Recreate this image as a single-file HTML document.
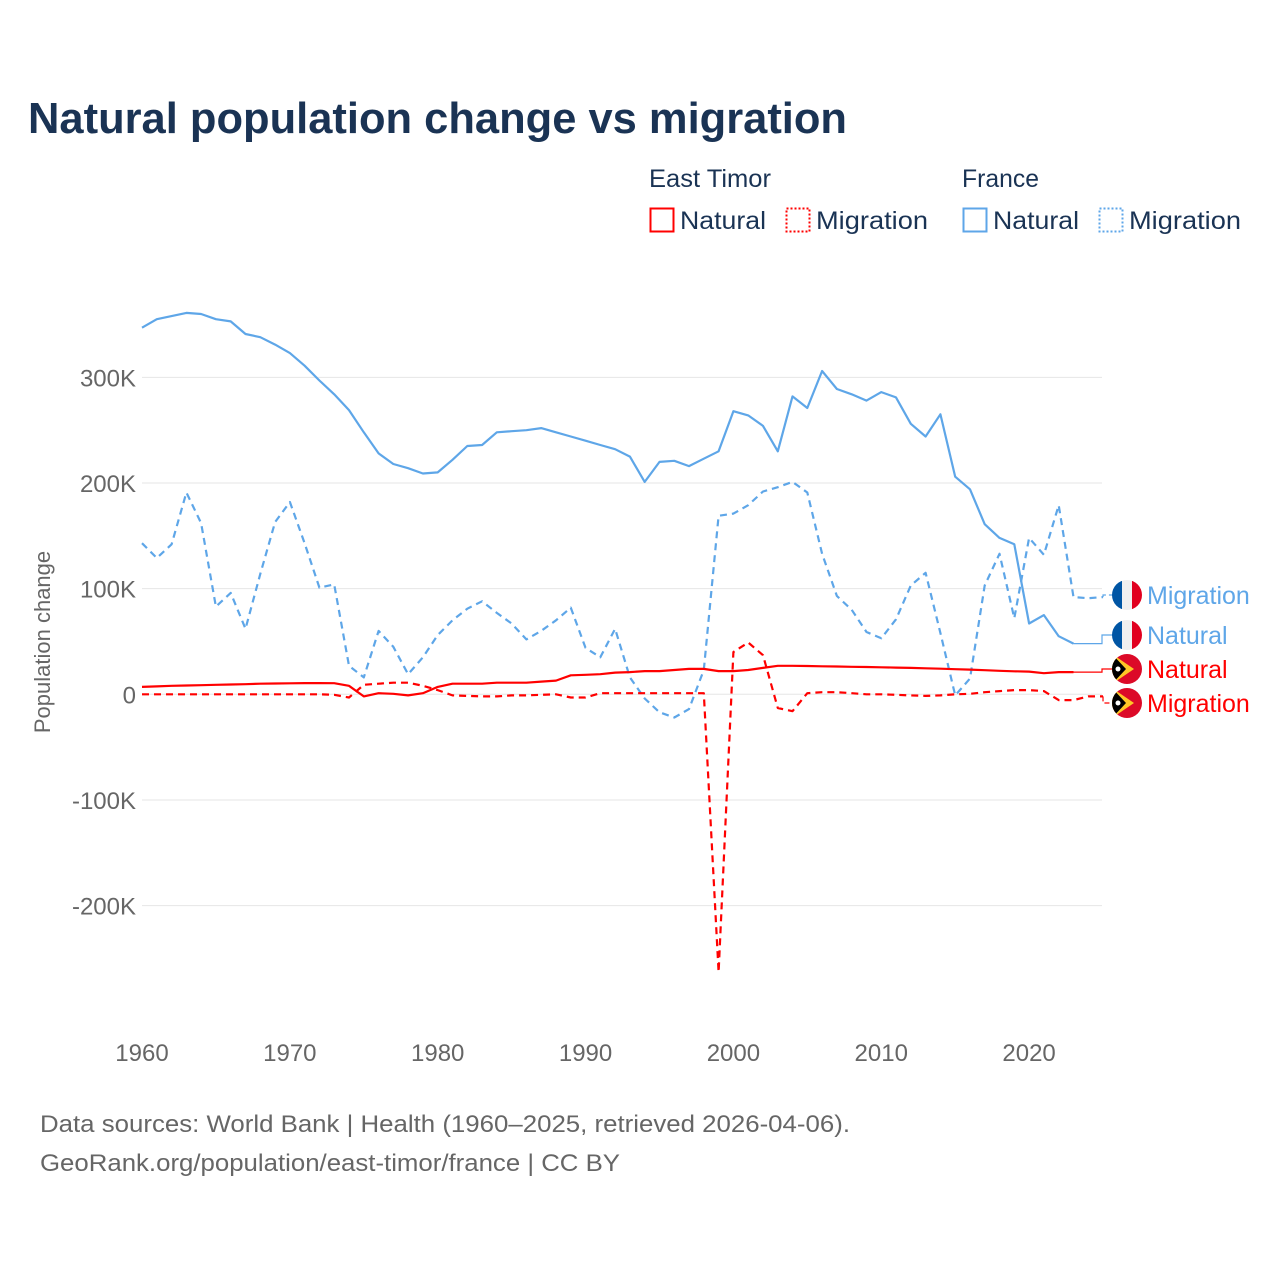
<!DOCTYPE html>
<html><head><meta charset="utf-8"><style>
html,body{margin:0;padding:0;background:#fff;}
svg{display:block;font-family:"Liberation Sans",sans-serif;}
</style></head><body>
<svg id="chart" width="1280" height="1280" viewBox="0 0 1280 1280">
<text x="28" y="133" font-size="44" font-weight="bold" fill="#1a3354" textLength="819" lengthAdjust="spacingAndGlyphs">Natural population change vs migration</text>
<g>
<text x="649" y="187" font-size="25" fill="#1a3354" textLength="122" lengthAdjust="spacingAndGlyphs">East Timor</text>
<text x="962" y="187" font-size="25" fill="#1a3354" textLength="77" lengthAdjust="spacingAndGlyphs">France</text>
<g><rect x="650.5" y="208.5" width="23" height="23" fill="none" stroke="#ff0000" stroke-width="2"/><text x="680" y="229" font-size="25" fill="#1a3354" textLength="86" lengthAdjust="spacingAndGlyphs">Natural</text></g>
<g><rect x="786.5" y="208.5" width="23" height="23" fill="none" stroke="#ff0000" stroke-width="2" stroke-dasharray="2,2"/><text x="816" y="229" font-size="25" fill="#1a3354" textLength="112" lengthAdjust="spacingAndGlyphs">Migration</text></g>
<g><rect x="963.5" y="208.5" width="23" height="23" fill="none" stroke="#5ea6e8" stroke-width="2"/><text x="993" y="229" font-size="25" fill="#1a3354" textLength="86" lengthAdjust="spacingAndGlyphs">Natural</text></g>
<g><rect x="1099.5" y="208.5" width="23" height="23" fill="none" stroke="#5ea6e8" stroke-width="2" stroke-dasharray="2,2"/><text x="1129" y="229" font-size="25" fill="#1a3354" textLength="112" lengthAdjust="spacingAndGlyphs">Migration</text></g>
</g>
<g id="grid"></g>
<g id="yticks"></g>
<g id="xticks"></g>
<text transform="translate(50,642) rotate(-90)" text-anchor="middle" font-size="22" fill="#666">Population change</text>
<g id="series"></g>
<g id="labels"></g>
<text x="40" y="1132" font-size="24" fill="#666" textLength="810" lengthAdjust="spacingAndGlyphs">Data sources: World Bank | Health (1960–2025, retrieved 2026-04-06).</text>
<text x="40" y="1171" font-size="24" fill="#666" textLength="580" lengthAdjust="spacingAndGlyphs">GeoRank.org/population/east-timor/france | CC BY</text>
</svg>
<script>
const startYear = 1960;
const yTicks = [-200, -100, 0, 100, 200, 300];
const yTickLabels = ["-200K","-100K","0","100K","200K","300K"];
const xTicks = [1960,1970,1980,1990,2000,2010,2020];
const franceNatural = [347,355,358,361,360,355,353,341,338,331,323,311,297,284,269,248,228,218,214,209,210,222,235,236,248,249,250,252,248,244,240,236,232,225,201,220,221,216,223,230,268,264,254,230,282,271,306,289,284,278,286,281,256,244,265,206,194,161,148,142,67,75,55,48];
const franceMigration = [143,129,142,191,162,83,96,62,114,163,182,143,101,104,27,16,60,45,19,35,56,70,81,88,77,67,52,60,70,82,44,35,62,16,-4,-17,-22,-14,23,169,171,179,192,196,201,191,133,93,80,59,53,71,103,115,58,-1,15,103,133,72,148,132,179,92,91,92];
const timorNatural = [7,7.5,8,8.3,8.6,9,9.3,9.6,10,10.2,10.4,10.6,10.6,10.5,8,-2,1,0.5,-1,1,7,10,10,10,11,11,11,12,13,18,18.5,19,20.5,21,22,22,23,24,24,22,22,23,25,27,27,26.8,26.5,26.3,26,25.8,25.6,25.3,25,24.6,24.2,23.8,23.4,22.8,22.2,21.8,21.5,20,21,21];
const timorMigration = [0,0,0,0,0,0,0,0,0,0,0,0,0,-0.5,-3,9,10,11,11,8,4,-1,-1.5,-2,-2,-1,-1,-0.5,0,-3,-3,1,1,1,1,1,1,1,1,-263,40,49,37,-13,-16,1,2,2,1,0,0,-0.5,-1,-1.5,-1,0,0.5,2,3,4,4,3,-5.5,-5.5,-2,-2];
const xS = yr => 142 + (yr - 1960) * 14.785;
const yS = v => 694.3 - v * 1.0565;
const NS = "http://www.w3.org/2000/svg";
function mk(tag, attrs, parent){const e=document.createElementNS(NS,tag);for(const k in attrs)e.setAttribute(k,attrs[k]);parent.appendChild(e);return e;}
const grid=document.getElementById('grid'), yt=document.getElementById('yticks'), xt=document.getElementById('xticks');
yTicks.forEach((t,i)=>{
  const l=mk('line',{x1:142,x2:1102,y1:yS(t),y2:yS(t),stroke:'#e6e6e6','stroke-width':1},grid);
  
  
  const tx=mk('text',{x:136,y:yS(t)+9,'text-anchor':'end','font-size':24,fill:'#666'},yt);
  tx.textContent=yTickLabels[i];
  
  
});
xTicks.forEach(t=>{
  const tx=mk('text',{x:xS(t),y:1061,'text-anchor':'middle','font-size':24,fill:'#666'},xt);
  tx.textContent=t;
  
  
});
const series=document.getElementById('series'), labels=document.getElementById('labels');
function draw(vals,color,dash,name,labelY,labelText,flag){
  const pts=vals.map((v,i)=>xS(startYear+i).toFixed(1)+','+yS(v).toFixed(1));
  const p=mk('polyline',{points:pts.join(' '),fill:'none',stroke:color,'stroke-width':2.2,'stroke-linejoin':'round'},series);
  if(dash) p.setAttribute('stroke-dasharray','7,5');
  
  
  const lx=xS(startYear+vals.length-1), ly=yS(vals[vals.length-1]);
  const ld=mk('polyline',{points:`${lx},${ly} ${Math.max(lx,1102)},${ly} ${Math.max(lx,1102)},${labelY} 1113,${labelY}`,fill:'none',stroke:color,'stroke-width':1.2},labels);
  if(dash) ld.setAttribute('stroke-dasharray','5,3');
  
  
  const g=mk('g',{},labels);
  
  
  if(flag==='fr'){
    mk('clipPath',{id:'c'+name},g);
    const cp=g.lastChild; mk('circle',{cx:1127,cy:labelY,r:15},cp);
    const fg=mk('g',{'clip-path':`url(#c${name})`},g);
    mk('rect',{x:1112,y:labelY-15,width:10,height:30,fill:'#0055a4'},fg);
    mk('rect',{x:1122,y:labelY-15,width:10,height:30,fill:'#f0f0f0'},fg);
    mk('rect',{x:1132,y:labelY-15,width:10,height:30,fill:'#e1001f'},fg);
  } else {
    mk('clipPath',{id:'c'+name},g);
    const cp=g.lastChild; mk('circle',{cx:1127,cy:labelY,r:15},cp);
    const fg=mk('g',{'clip-path':`url(#c${name})`},g);
    mk('rect',{x:1112,y:labelY-15,width:30,height:30,fill:'#dc0a28'},fg);
    mk('polygon',{points:`1112,${labelY-15} 1134,${labelY} 1112,${labelY+15}`,fill:'#ffc726'},fg);
    mk('polygon',{points:`1112,${labelY-15} 1126,${labelY} 1112,${labelY+15}`,fill:'#000'},fg);
    mk('circle',{cx:1118,cy:labelY,r:2.5,fill:'#fff'},fg);
  }
  const t=mk('text',{x:1147,y:labelY+9,'font-size':25,fill:color},g);
  t.textContent=labelText;
}
draw(franceNatural,'#5ea6e8',false,'france-natural-line',635,'Natural','fr');
draw(franceMigration,'#5ea6e8',true,'france-migration-line',595,'Migration','fr');
draw(timorNatural,'#ff0000',false,'east-timor-natural-line',669,'Natural','tl');
draw(timorMigration,'#ff0000',true,'east-timor-migration-line',703,'Migration','tl');
</script>
</body></html>
